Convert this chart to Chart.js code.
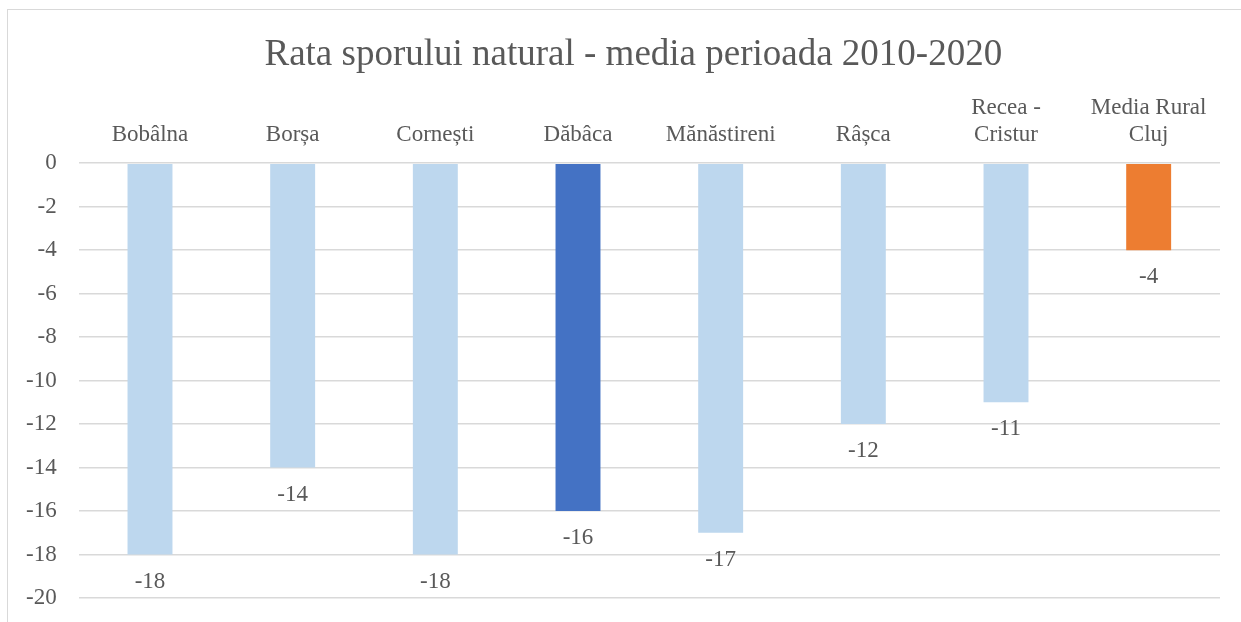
<!DOCTYPE html>
<html>
<head>
<meta charset="utf-8">
<script src="https://cdn.jsdelivr.net/npm/chart.js@4"></script>
<style>
	html, body { margin: 0; padding: 0; background: #fff; overflow: hidden; }
	#wrap { position: relative; width: 1241px; height: 622px; }
	#frame { position: absolute; left: 7px; top: 9px; width: 1300px; height: 700px; border: 1.5px solid #d9d9d9; box-sizing: border-box; }
	canvas { position: absolute; left: 0; top: 0; }
</style>
</head>
<body>
<div id="wrap">
	<div id="frame"></div>
	<canvas id="chart" width="1241" height="622"></canvas>
</div>
<script>
const titlu = "Rata sporului natural - media perioada 2010-2020"
const localitati = ["Bobâlna", "Borșa", "Cornești", "Dăbâca", "Mănăstireni", "Râșca", ["Recea -", "Cristur"], ["Media Rural", "Cluj"]]
const rataSpor = [-18, -14, -18, -16, -17, -12, -11, -4]
const culoriBare = ["#BDD7EE", "#BDD7EE", "#BDD7EE", "#4472C4", "#BDD7EE", "#BDD7EE", "#BDD7EE", "#ED7D31"]
const yMin = -20
const yMax = 0
const yStep = 2

const serif = "'Liberation Serif', 'Times New Roman', serif"
const textColor = "#595959"

// titlul, usor deplasat fata de centrul zonei graficului (ca in Excel)
const chartTitle = {
	id: "chartTitle",
	afterDraw(chart) {
		const ctx = chart.ctx
		const area = chart.chartArea
		ctx.save()
		ctx.font = "37px " + serif
		ctx.fillStyle = textColor
		ctx.textAlign = "center"
		ctx.textBaseline = "alphabetic"
		ctx.fillText(titlu, (area.left + area.right) / 2 - 16, area.top - 98)
		ctx.restore()
	}
}

// etichete sub fiecare bara
const valueLabels = {
	id: "valueLabels",
	afterDatasetsDraw(chart) {
		const ctx = chart.ctx
		const meta = chart.getDatasetMeta(0)
		ctx.save()
		ctx.font = "23px " + serif
		ctx.fillStyle = textColor
		ctx.textAlign = "center"
		ctx.textBaseline = "middle"
		meta.data.forEach((bar, i) => {
			ctx.fillText(String(chart.data.datasets[0].data[i]), bar.x, bar.y + 27)
		})
		ctx.restore()
	}
}

const chart = new Chart("chart", {
	type: "bar",
	data: {
		labels: localitati,
		datasets: [{
			data: rataSpor,
			backgroundColor: culoriBare,
			barPercentage: 0.315,
			categoryPercentage: 1
		}]
	},
	options: {
		responsive: false,
		animation: false,
		layout: {
			padding: { left: 18, right: 21, top: 80, bottom: 24 }
		},
		plugins: {
			legend: { display: false },
			tooltip: { enabled: false },
			title: { display: false }
		},
		scales: {
			x: {
				position: "top",
				grid: { display: false, drawTicks: false },
				border: { display: false },
				ticks: {
					color: textColor,
					font: { family: serif, size: 23 },
					maxRotation: 0,
					autoSkip: false,
					padding: 14
				}
			},
			y: {
				min: yMin,
				max: yMax,
				grid: { color: "#d9d9d9", lineWidth: 1.5, drawTicks: true, tickLength: 14, tickColor: "rgba(0,0,0,0)" },
				border: { display: false },
				ticks: {
					stepSize: yStep,
					color: textColor,
					font: { family: serif, size: 23 },
					padding: 8
				}
			}
		}
	},
	plugins: [chartTitle, valueLabels]
})
</script>
</body>
</html>
